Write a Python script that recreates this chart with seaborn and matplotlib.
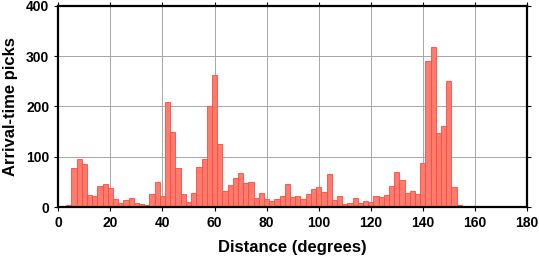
import numpy as np
import pandas as pd
import matplotlib
matplotlib.use("Agg")
import matplotlib.pyplot as plt
import seaborn as sns

# Bin centres (degrees), 2-degree bins
centers = list(range(0, 156, 2))
counts = [3, 0, 5, 77, 95, 85, 25, 23, 43, 47,
          38, 17, 8, 15, 19, 8, 7, 5, 27, 50,
          23, 208, 149, 77, 27, 10, 29, 79, 95, 201,
          262, 125, 33, 45, 59, 68, 48, 50, 18, 28,
          16, 13, 16, 22, 46, 20, 22, 16, 26, 36,
          40, 30, 67, 15, 22, 7, 9, 18, 8, 13,
          10, 22, 21, 24, 42, 70, 54, 28, 32, 26,
          88, 290, 318, 147, 161, 250, 40, 5]
bin_edges = list(range(-1, 157, 2))
x_ticks = [0, 20, 40, 60, 80, 100, 120, 140, 160, 180]
y_ticks = [0, 100, 200, 300, 400]

df = pd.DataFrame({"distance": centers, "picks": counts})

sns.set_style("white")
plt.rcParams["font.family"] = ["Liberation Sans", "DejaVu Sans"]
plt.rcParams["font.weight"] = "bold"
plt.rcParams["text.color"] = "black"
plt.rcParams["axes.labelcolor"] = "black"
plt.rcParams["xtick.color"] = "black"
plt.rcParams["ytick.color"] = "black"

fig = plt.figure(figsize=(5.39, 2.58), dpi=100)
ax = fig.add_axes([58.3 / 539, 1 - 207.3 / 258, (527 - 58.3) / 539, (207.3 - 5.7) / 258])

sns.histplot(data=df, x="distance", weights="picks", bins=bin_edges, ax=ax,
             color="#ff7b6e", edgecolor="#ff4a3d", linewidth=0.6, alpha=1.0, zorder=3)

ax.set_xlim(0, 180)
ax.set_ylim(0, 400)
ax.set_xticks(x_ticks)
ax.set_yticks(y_ticks)
ax.grid(True, color="#999999", linewidth=0.6, zorder=0)
ax.set_axisbelow(True)

for s in ax.spines.values():
    s.set_visible(True)
    s.set_color("black")
    s.set_linewidth(1.6)
    s.set_zorder(5)

ax.tick_params(axis="both", which="both", direction="out", length=3, width=0.8,
               top=True, right=True, bottom=True, left=True, labelsize=10,
               colors="black", labelcolor="black")
for lbl in ax.get_xticklabels() + ax.get_yticklabels():
    lbl.set_fontweight("bold")
    lbl.set_color("black")

ax.set_xlabel("Distance (degrees)", fontsize=12, fontweight="bold", labelpad=7, color="black")
ax.set_ylabel("Arrival-time picks", fontsize=12, fontweight="bold", labelpad=6, color="black")

fig.savefig("out.png", dpi=100)
